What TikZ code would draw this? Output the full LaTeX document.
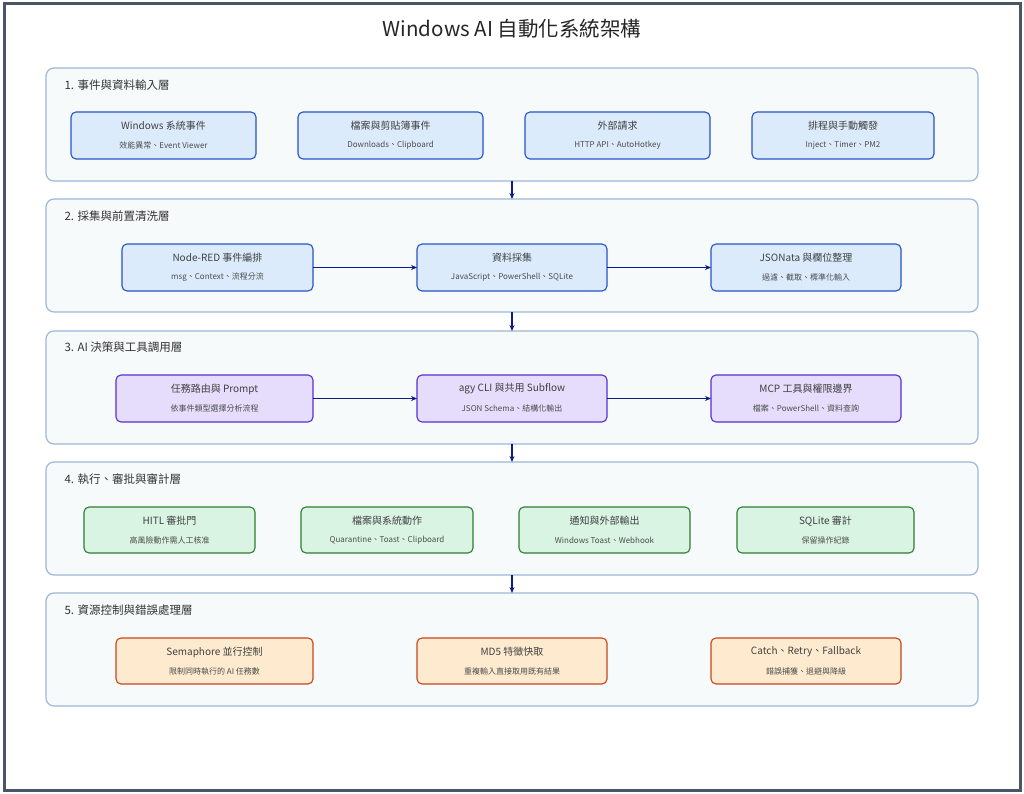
\documentclass[tikz,border=0pt]{standalone}
\usepackage{fontspec}
\setmainfont{Noto Sans CJK TC}
\usetikzlibrary{arrows.meta}
\definecolor{lay}{HTML}{9DB8D6}
\definecolor{layf}{HTML}{F7FAFB}
\definecolor{bf}{HTML}{DCEBFC}\definecolor{bd}{HTML}{2553C9}
\definecolor{pf}{HTML}{E5DDFB}\definecolor{pd}{HTML}{5530D0}
\definecolor{gf}{HTML}{D9F4E2}\definecolor{gd}{HTML}{2E7D32}
\definecolor{of}{HTML}{FEEBCF}\definecolor{od}{HTML}{C8451C}
\definecolor{arr}{HTML}{0D1B8A}
\definecolor{frame}{HTML}{4A5568}
\begin{document}
\begin{tikzpicture}[x=1pt,y=-1pt,
 layer/.style={draw=lay,fill=layf,line width=1.2pt,rounded corners=8pt},
 ltitle/.style={anchor=west,font=\fontsize{11.5}{13}\selectfont,text=black!80},
 box/.style={line width=1.1pt,rounded corners=5pt},
 blue/.style={box,draw=bd,fill=bf},
 purp/.style={box,draw=pd,fill=pf},
 green/.style={box,draw=gd,fill=gf},
 orng/.style={box,draw=od,fill=of},
 t1/.style={font=\fontsize{10}{11}\selectfont,text=black!75},
 t2/.style={font=\fontsize{8}{9}\selectfont,text=black!70},
 ar/.style={draw=arr,line width=1.6pt,-{Stealth[length=6pt,width=5pt]}}]
\useasboundingbox (0,0) rectangle (1024,794);
\fill[white] (0,0) rectangle (1024,794);
\draw[frame,line width=3pt] (4,4) rectangle (1020,790);
\node[font=\fontsize{20.5}{24}\selectfont,text=black!85] (title) at (512,29) {Windows AI 自動化系統架構};
\foreach \n/\y in {1/68,2/199,3/331,4/462,5/593}{
 \draw[layer] (46,\y) rectangle (978,\y+113);
 \coordinate (L\n t) at (512,\y);
 \coordinate (L\n b) at (512,\y+113);
}
\node[ltitle] (l1) at (61,85) {1. 事件與資料輸入層};
\node[ltitle] (l2) at (61,216) {2. 採集與前置清洗層};
\node[ltitle] (l3) at (61,347) {3. AI 決策與工具調用層};
\node[ltitle] (l4) at (61,479) {4. 執行、審批與審計層};
\node[ltitle] (l5) at (61,610) {5. 資源控制與錯誤處理層};
\foreach \a/\b in {1/2,2/3,3/4,4/5}{\draw[ar] (L\a b) -- (L\b t);}
\newcommand\mybox[8]{%
 \draw[#2] (#3,#4) rectangle (#5,#6);
 \node[t1] (#1a) at ({(#3+#5)/2},#4+14) {#7};
 \node[t2] (#1b) at ({(#3+#5)/2},#4+33) {#8};
 \coordinate (#1W) at (#3,{(#4+#6)/2});
 \coordinate (#1E) at (#5,{(#4+#6)/2});}
\mybox{a1}{blue}{71}{112}{256}{159}{Windows 系統事件}{效能異常、Event Viewer}
\mybox{a2}{blue}{298}{112}{483}{159}{檔案與剪貼簿事件}{Downloads、Clipboard}
\mybox{a3}{blue}{525}{112}{710}{159}{外部請求}{HTTP API、AutoHotkey}
\mybox{a4}{blue}{752}{112}{934}{159}{排程與手動觸發}{Inject、Timer、PM2}
\mybox{b1}{blue}{122}{244}{313}{291}{Node-RED 事件編排}{msg、Context、流程分流}
\mybox{b2}{blue}{417}{244}{607}{291}{資料採集}{JavaScript、PowerShell、SQLite}
\mybox{b3}{blue}{711}{244}{901}{291}{JSONata 與欄位整理}{過濾、截取、標準化輸入}
\draw[ar] (b1E) -- (b2W); \draw[ar] (b2E) -- (b3W);
\mybox{c1}{purp}{116}{375}{313}{422}{任務路由與 Prompt}{依事件類型選擇分析流程}
\mybox{c2}{purp}{417}{375}{607}{422}{agy CLI 與共用 Subflow}{JSON Schema、結構化輸出}
\mybox{c3}{purp}{711}{375}{901}{422}{MCP 工具與權限邊界}{檔案、PowerShell、資料查詢}
\draw[ar] (c1E) -- (c2W); \draw[ar] (c2E) -- (c3W);
\mybox{d1}{green}{84}{507}{255}{553}{HITL 審批門}{高風險動作需人工核准}
\mybox{d2}{green}{301}{507}{473}{553}{檔案與系統動作}{Quarantine、Toast、Clipboard}
\mybox{d3}{green}{519}{507}{690}{553}{通知與外部輸出}{Windows Toast、Webhook}
\mybox{d4}{green}{737}{507}{914}{553}{SQLite 審計}{保留操作紀錄}
\mybox{e1}{orng}{116}{638}{313}{684}{Semaphore 並行控制}{限制同時執行的 AI 任務數}
\mybox{e2}{orng}{417}{638}{607}{684}{MD5 特徵快取}{重複輸入直接取用既有結果}
\mybox{e3}{orng}{711}{638}{901}{684}{Catch、Retry、Fallback}{錯誤捕獲、退避與降級}
\end{tikzpicture}
\end{document}
